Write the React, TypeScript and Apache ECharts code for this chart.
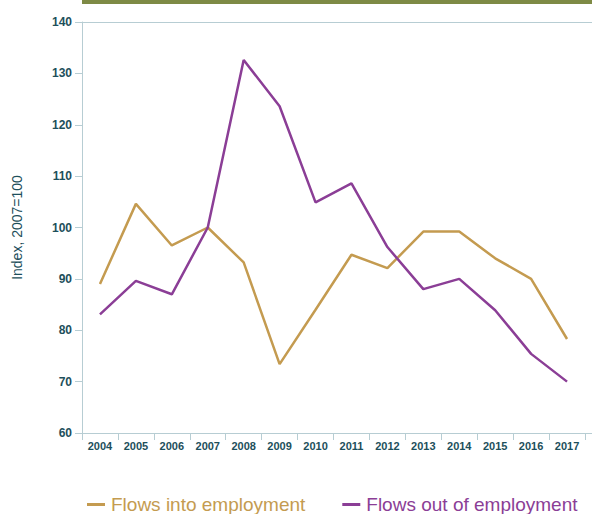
import React, { useEffect, useRef } from "react";
import * as echarts from "echarts";

const years = ["2004","2005","2006","2007","2008","2009","2010","2011","2012","2013","2014","2015","2016","2017"];
const flowsInto = [89, 104.6, 96.5, 100, 93.2, 73.4, 84, 94.7, 92.1, 99.2, 99.2, 94, 90, 78.3];
const flowsOut = [83.1, 89.6, 87, 100, 132.6, 123.6, 104.9, 108.6, 96.2, 88, 90, 83.9, 75.4, 70];
const seriesNames = ["Flows into employment", "Flows out of employment"];
const yTicks = { min: 60, max: 140, interval: 10 };

const GOLD = "#c49b50";
const PURPLE = "#8b3e96";
const TEAL = "#1d4f5b";
const AXIS = "#b7cdd3";

export default function App() {
  const ref = useRef<HTMLDivElement>(null);
  useEffect(() => {
    if (!ref.current) return;
    const chart = echarts.init(ref.current, null, { renderer: "svg" });
    chart.setOption({
      animation: false,
      textStyle: { fontFamily: "Liberation Sans, Arial, sans-serif" },
      grid: { left: 82, top: 22, width: 503, height: 411 },
      graphic: [
        { type: "rect", shape: { x: 82, y: 0, width: 510, height: 4 }, style: { fill: "#7e8a45" }, silent: true },
        { type: "line", shape: { x1: 82, y1: 22.5, x2: 592, y2: 22.5 }, style: { stroke: AXIS, lineWidth: 1 }, silent: true },
        { type: "line", shape: { x1: 82, y1: 433.5, x2: 592, y2: 433.5 }, style: { stroke: AXIS, lineWidth: 1 }, silent: true },
      ],
      xAxis: {
        type: "category",
        data: years,
        boundaryGap: true,
        axisLine: { show: true, lineStyle: { color: AXIS } },
        axisTick: { show: true, length: 7, lineStyle: { color: AXIS } },
        axisLabel: { color: TEAL, fontSize: 11, fontWeight: "bold", margin: 7 },
        splitLine: { show: false },
      },
      yAxis: {
        type: "value",
        min: yTicks.min,
        max: yTicks.max,
        interval: yTicks.interval,
        name: "Index, 2007=100",
        nameLocation: "middle",
        nameGap: 58,
        nameRotate: 90,
        nameTextStyle: { color: TEAL, fontSize: 14 },
        axisLine: { show: true, lineStyle: { color: AXIS } },
        axisTick: { show: true, length: 7, lineStyle: { color: AXIS } },
        axisLabel: { color: TEAL, fontSize: 12, fontWeight: "bold", margin: 10 },
        splitLine: { show: false },
      },
      legend: {
        left: 82,
        top: 490,
        icon: "rect",
        itemWidth: 18,
        itemHeight: 3,
        itemGap: 37,
        textStyle: { fontSize: 19, padding: [0, 0, 0, 1] },
        data: [
          { name: seriesNames[0], textStyle: { color: GOLD } },
          { name: seriesNames[1], textStyle: { color: PURPLE } },
        ],
      },
      series: [
        {
          name: seriesNames[0],
          type: "line",
          data: flowsInto,
          symbol: "none",
          color: GOLD,
          lineStyle: { width: 2.5, color: GOLD },
        },
        {
          name: seriesNames[1],
          type: "line",
          data: flowsOut,
          symbol: "none",
          color: PURPLE,
          lineStyle: { width: 2.5, color: PURPLE },
        },
      ],
    });
    return () => chart.dispose();
  }, []);
  return <div ref={ref} style={{ width: 592, height: 514, position: "absolute", left: 0, top: 0 }} />;
}
